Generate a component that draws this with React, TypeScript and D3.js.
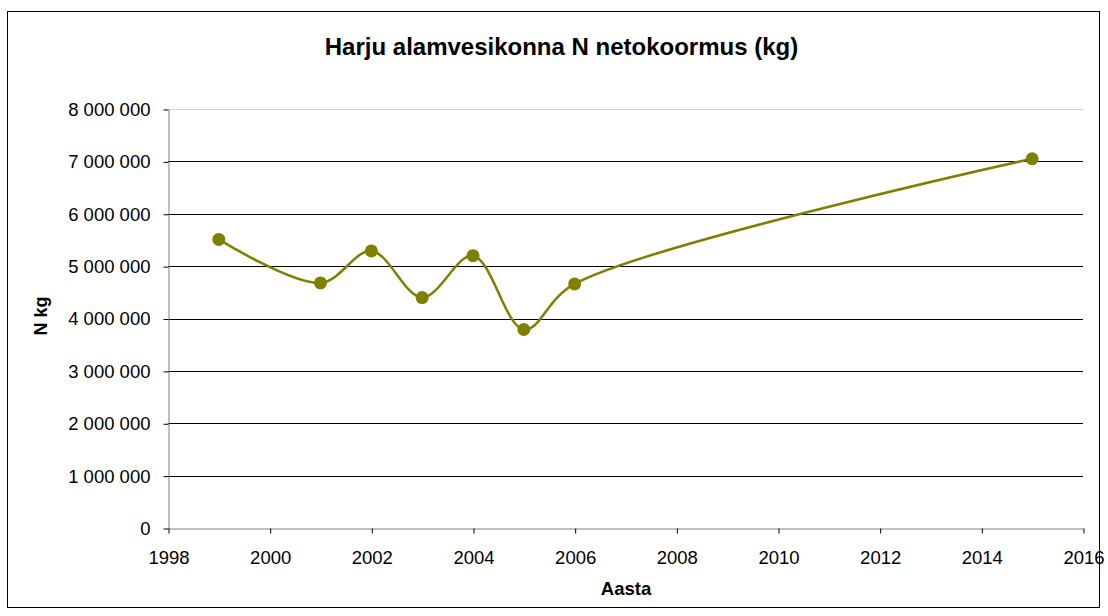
import { useEffect, useRef } from 'react'
import * as d3 from 'd3'

const years = [1999, 2001, 2002, 2003, 2004, 2005, 2006, 2015]
const loads = [5510000, 4680000, 5290000, 4400000, 5200000, 3790000, 4660000, 7050000]
const yTicks = [0, 1000000, 2000000, 3000000, 4000000, 5000000, 6000000, 7000000, 8000000]
const xTicks = [1998, 2000, 2002, 2004, 2006, 2008, 2010, 2012, 2014, 2016]

const W = 1108
const H = 616

export default function App() {
  const svgRef = useRef<SVGSVGElement>(null)

  useEffect(() => {
    document.body.style.margin = '0'
    if (!svgRef.current) return
    const svg = d3.select(svgRef.current)
    svg.selectAll('*').remove()

    const font = 'Arial, "Liberation Sans", sans-serif'
    const left = 168, right = 1083, top = 109, bottom = 528

    const x = d3.scaleLinear().domain([1998, 2016]).range([left, right])
    const y = d3.scaleLinear().domain([0, 8000000]).range([bottom, top])
    const fmt = (v: number) => d3.format(',')(v).replace(/,/g, ' ')

    // outer frame
    svg.append('rect')
      .attr('x', 7.5).attr('y', 11.5)
      .attr('width', 1092).attr('height', 596)
      .attr('fill', '#fff').attr('stroke', '#000').attr('stroke-width', 1)

    // gridlines
    svg.append('g')
      .selectAll('line')
      .data(yTicks.filter(d => d > 0))
      .enter()
      .append('line')
      .attr('x1', left).attr('x2', right)
      .attr('y1', d => Math.round(y(d)) + 0.5).attr('y2', d => Math.round(y(d)) + 0.5)
      .attr('stroke', d => d === 8000000 ? '#d4d4d4' : '#000')
      .attr('stroke-width', 1)

    // y axis
    const yAxis = svg.append('g')
      .attr('transform', `translate(${left + 0.5},0.5)`)
      .call(d3.axisLeft(y).tickValues(yTicks).tickFormat(d => fmt(+d)).tickSize(5).tickPadding(13).tickSizeOuter(0))
    yAxis.select('.domain').attr('stroke', '#808080')
    yAxis.selectAll('.tick line').attr('stroke', '#000')
    yAxis.selectAll('text').attr('font-family', font).attr('font-size', 18.5).attr('fill', '#000')

    // x axis
    const xAxis = svg.append('g')
      .attr('transform', `translate(0.5,${bottom + 0.5})`)
      .call(d3.axisBottom(x).tickValues(xTicks).tickFormat(d3.format('d')).tickSize(5).tickPadding(17).tickSizeOuter(0))
    xAxis.select('.domain').attr('stroke', '#808080')
    xAxis.selectAll('.tick line').attr('stroke', '#000')
    xAxis.selectAll('text').attr('font-family', font).attr('font-size', 18.5).attr('fill', '#000')

    const pts = years.map((yr, i) => [x(yr), y(loads[i])] as [number, number])

    const line = d3.line<[number, number]>()
      .x(d => d[0]).y(d => d[1])
      .curve(d3.curveCatmullRom.alpha(0.5))

    svg.append('path')
      .attr('d', line(pts))
      .attr('fill', 'none')
      .attr('stroke', '#808000')
      .attr('stroke-width', 2.5)

    svg.append('g')
      .selectAll('circle')
      .data(pts)
      .enter()
      .append('circle')
      .attr('cx', d => d[0]).attr('cy', d => d[1])
      .attr('r', 6.5)
      .attr('fill', '#808000')

    // title
    svg.append('text')
      .attr('x', 561.5).attr('y', 55)
      .attr('text-anchor', 'middle')
      .attr('font-family', font).attr('font-size', 24).attr('font-weight', 'bold')
      .text('Harju alamvesikonna N netokoormus (kg)')

    svg.append('text')
      .attr('transform', `translate(47,316) rotate(-90)`)
      .attr('text-anchor', 'middle')
      .attr('font-family', font).attr('font-size', 18).attr('font-weight', 'bold')
      .text('N kg')

    svg.append('text')
      .attr('x', 626).attr('y', 595)
      .attr('text-anchor', 'middle')
      .attr('font-family', font).attr('font-size', 18.5).attr('font-weight', 'bold')
      .text('Aasta')
  }, [])

  return <svg ref={svgRef} width={W} height={H} style={{ display: 'block' }} />
}
